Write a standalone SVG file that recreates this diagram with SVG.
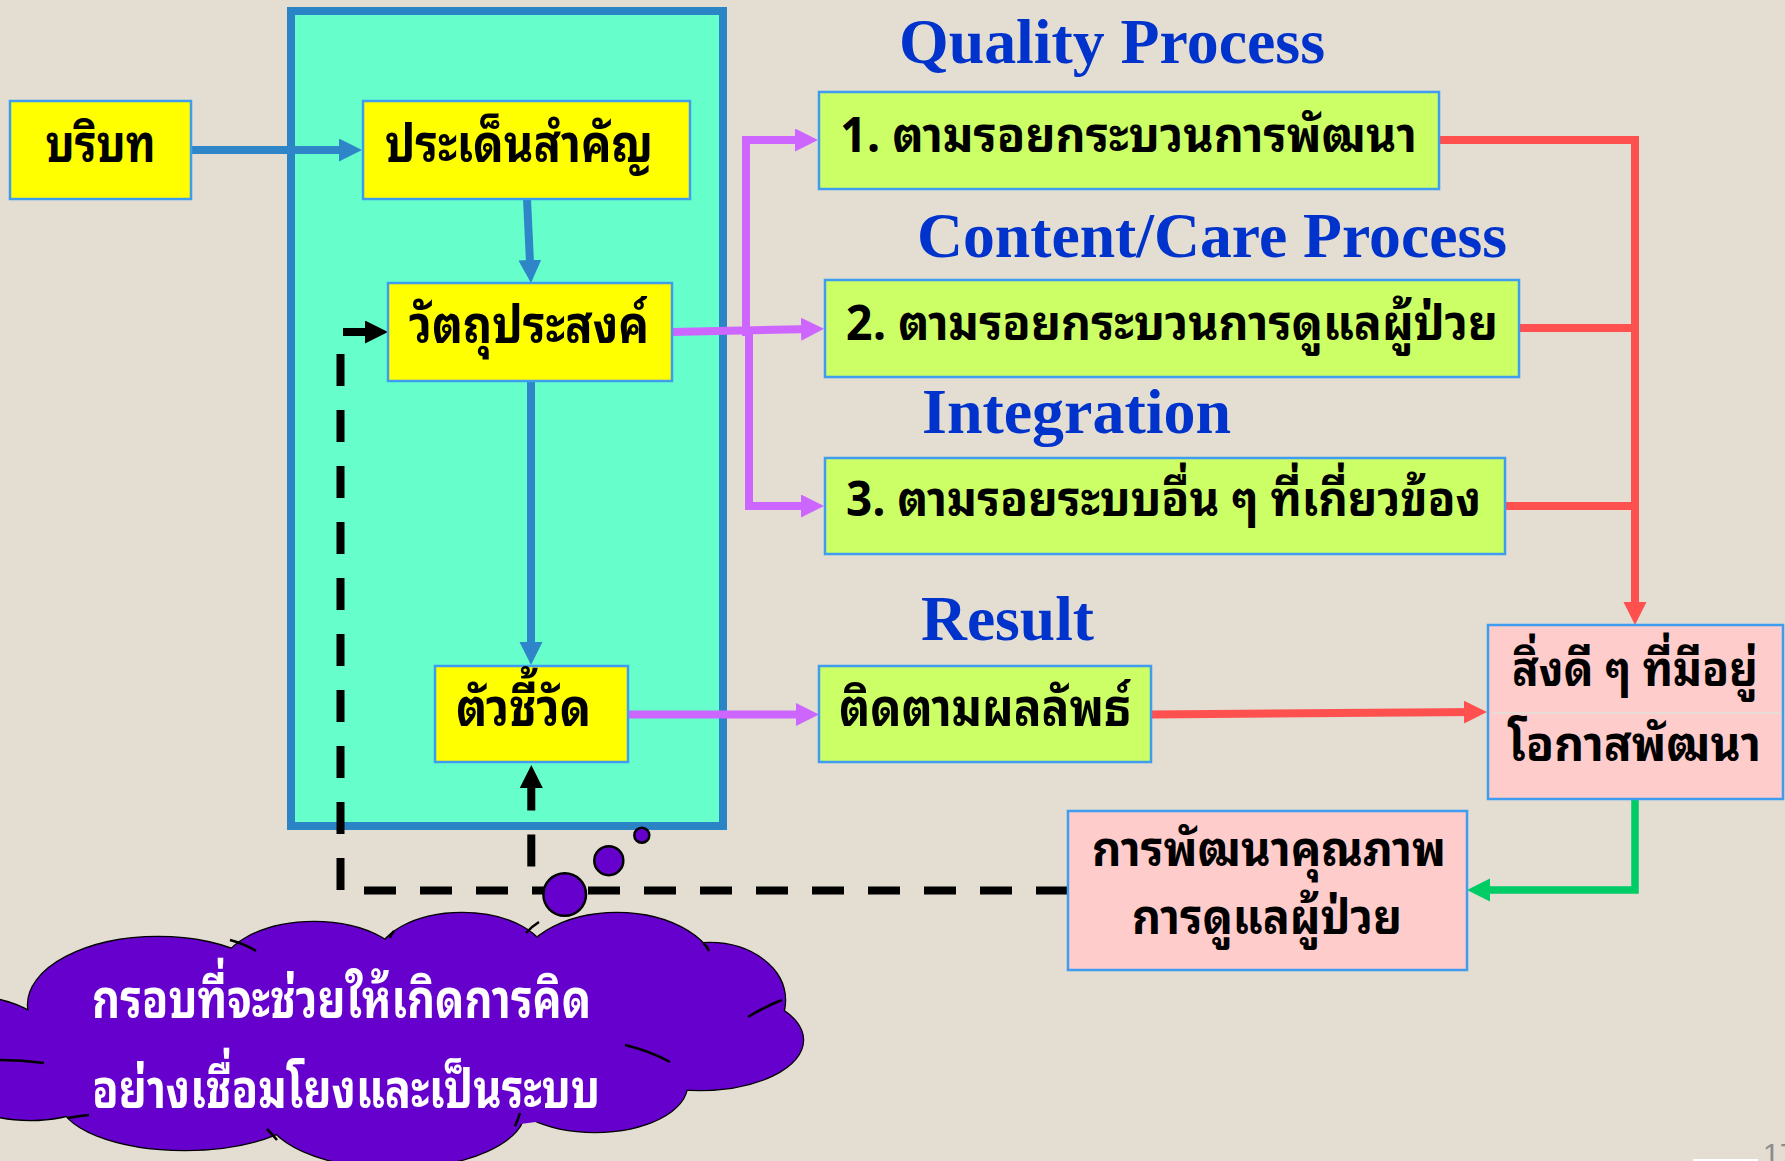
<svg xmlns="http://www.w3.org/2000/svg" width="1785" height="1161" viewBox="0 0 1785 1161">
<style>
.bg{fill:#E3DDD2}
.node{stroke:#3F9CEE;stroke-width:2.5}
.yel{fill:#FFFF00}
.grn{fill:#CCFF66}
.pnk{fill:#FFCCCC}
.th{font-family:'Noto Sans Thai Looped','Noto Serif Thai','Garuda','Loma','Norasi','Noto Sans Thai','Noto Sans','DejaVu Sans',sans-serif;font-weight:bold;font-size:52px;fill:#000}
.sm{font-size:48px}
.thw{fill:#FFFFFF;font-size:54px}
.title{font-family:'Liberation Serif','Times New Roman',serif;font-weight:bold;font-size:64px;fill:#0033CC}
.c{fill:none;stroke-width:8;stroke-linejoin:miter}
.blue{stroke:#2E86C8}
.purp{stroke:#CC66FF}
.red{stroke:#FF5050}
.green{stroke:#00CC66;stroke-width:7.5}
.blk{stroke:#000}
.dash{stroke-dasharray:32 24}
.cloud{fill:#6600CC;stroke:#000;stroke-width:2.5}
.cloudf{fill:#6600CC}
.tail{fill:none;stroke:#000;stroke-width:2.5}
</style>
<defs>
<marker id="mBlue" markerUnits="userSpaceOnUse" markerWidth="24" markerHeight="24" refX="11" refY="11.5" orient="auto"><path d="M0,0 L23,11.5 L0,23 Z" fill="#2E86C8"/></marker>
<marker id="mPurp" markerUnits="userSpaceOnUse" markerWidth="24" markerHeight="24" refX="11" refY="11.5" orient="auto"><path d="M0,0 L23,11.5 L0,23 Z" fill="#CC66FF"/></marker>
<marker id="mRed" markerUnits="userSpaceOnUse" markerWidth="24" markerHeight="24" refX="11" refY="11.5" orient="auto"><path d="M0,0 L23,11.5 L0,23 Z" fill="#FF5050"/></marker>
<marker id="mGreen" markerUnits="userSpaceOnUse" markerWidth="24" markerHeight="24" refX="11" refY="11.5" orient="auto"><path d="M0,0 L23,11.5 L0,23 Z" fill="#00CC66"/></marker>
<marker id="mBlk" markerUnits="userSpaceOnUse" markerWidth="24" markerHeight="24" refX="11" refY="11.5" orient="auto"><path d="M0,0 L23,11.5 L0,23 Z" fill="#000"/></marker>
</defs>
<rect class="bg" x="0" y="0" width="1785" height="1161"/>

<g id="frame">
<rect x="291" y="11" width="432" height="815" fill="#66FFCC" stroke="#2A84C6" stroke-width="8"/>
</g>

<g id="titles">
<text class="title" x="899" y="63" textLength="426" lengthAdjust="spacingAndGlyphs">Quality Process</text>
<text class="title" x="917" y="257" textLength="590" lengthAdjust="spacingAndGlyphs">Content/Care Process</text>
<text class="title" x="922" y="433" textLength="309" lengthAdjust="spacingAndGlyphs">Integration</text>
<text class="title" x="921" y="640" textLength="173" lengthAdjust="spacingAndGlyphs">Result</text>
</g>

<g id="connectors">
<path class="c blue" d="M191,150 H350" marker-end="url(#mBlue)"/>
<path class="c blue" d="M527,199 L530.4,271" marker-end="url(#mBlue)"/>
<path class="c blue" d="M531,382 V653" marker-end="url(#mBlue)"/>
<path class="c purp" d="M672,332 L812,329" marker-end="url(#mPurp)"/>
<path class="c purp" d="M746,336 V140 H806" marker-end="url(#mPurp)"/>
<path class="c purp" d="M749,328 V506 H812" marker-end="url(#mPurp)"/>
<path class="c purp" d="M627,714.6 H807" marker-end="url(#mPurp)"/>
<path class="c red" d="M1439,140 H1635 V613" marker-end="url(#mRed)"/>
<path class="c red" d="M1519,328 H1635"/>
<path class="c red" d="M1505,506 H1635"/>
<path class="c red" d="M1151,714.5 L1475,712" marker-end="url(#mRed)"/>
<path class="c green" d="M1635,799 V890 H1479" marker-end="url(#mGreen)"/>
<path class="c blk dash" d="M1068,890.5 H340.5 V330"/>
<path class="c blk" d="M343,332 H376" marker-end="url(#mBlk)"/>
<path class="c blk" d="M531.3,890.5 V777" stroke-dasharray="0 24 32 24 100" marker-end="url(#mBlk)"/>
</g>

<g id="n-context">
<rect class="node yel" x="10" y="101" width="181" height="98"/>
<text class="th" x="100.5" y="162" text-anchor="middle" textLength="110" lengthAdjust="spacingAndGlyphs">บริบท</text>
</g>
<g id="n-issue">
<rect class="node yel" x="363" y="101" width="327" height="98"/>
<text class="th" x="519" y="162" text-anchor="middle" textLength="268" lengthAdjust="spacingAndGlyphs">ประเด็นสำคัญ</text>
</g>
<g id="n-objective">
<rect class="node yel" x="388" y="283" width="284" height="98"/>
<text class="th" x="529" y="343" text-anchor="middle" textLength="240" lengthAdjust="spacingAndGlyphs">วัตถุประสงค์</text>
</g>
<g id="n-indicator">
<rect class="node yel" x="435" y="666" width="193" height="96"/>
<text class="th" x="523.5" y="726" text-anchor="middle" textLength="135" lengthAdjust="spacingAndGlyphs">ตัวชี้วัด</text>
</g>
<g id="n-trace1">
<rect class="node grn" x="819" y="92" width="620" height="97"/>
<text class="th sm" x="840" y="152" textLength="577" lengthAdjust="spacingAndGlyphs">1. ตามรอยกระบวนการพัฒนา</text>
</g>
<g id="n-trace2">
<rect class="node grn" x="825" y="280" width="694" height="97"/>
<text class="th sm" x="846" y="340" textLength="652" lengthAdjust="spacingAndGlyphs">2. ตามรอยกระบวนการดูแลผู้ป่วย</text>
</g>
<g id="n-trace3">
<rect class="node grn" x="825" y="458" width="680" height="96"/>
<text class="th sm" x="846" y="516" textLength="635" lengthAdjust="spacingAndGlyphs">3. ตามรอยระบบอื่น ๆ ที่เกี่ยวข้อง</text>
</g>
<g id="n-result">
<rect class="node grn" x="819" y="666" width="332" height="96"/>
<text class="th" x="839" y="726" textLength="292" lengthAdjust="spacingAndGlyphs">ติดตามผลลัพธ์</text>
</g>
<g id="n-good">
<rect class="node pnk" x="1488" y="625" width="295" height="174"/>
<line x1="1493" y1="713" x2="1781" y2="713" stroke="#E8DCD6" stroke-width="2"/>
<text class="th sm" x="1512" y="686" textLength="246" lengthAdjust="spacingAndGlyphs">สิ่งดี ๆ ที่มีอยู่</text>
<text class="th sm" x="1508" y="761" textLength="253" lengthAdjust="spacingAndGlyphs">โอกาสพัฒนา</text>
</g>
<g id="n-improve">
<rect class="node pnk" x="1068" y="811" width="399" height="159"/>
<text class="th sm" x="1092" y="866" textLength="354" lengthAdjust="spacingAndGlyphs">การพัฒนาคุณภาพ</text>
<text class="th sm" x="1132" y="934" textLength="270" lengthAdjust="spacingAndGlyphs">การดูแลผู้ป่วย</text>
</g>

<g id="n-cloud">
<g class="cloud">
<ellipse cx="158" cy="1005" rx="130" ry="68"/>
<ellipse cx="314" cy="975" rx="95" ry="53"/>
<ellipse cx="462" cy="960" rx="85" ry="47"/>
<ellipse cx="617" cy="975" rx="100" ry="62"/>
<ellipse cx="710" cy="1000" rx="75" ry="57"/>
<ellipse cx="700" cy="1040" rx="103" ry="50"/>
<ellipse cx="595" cy="1085" rx="92" ry="47"/>
<ellipse cx="395" cy="1110" rx="130" ry="58"/>
<ellipse cx="185" cy="1100" rx="125" ry="50"/>
<ellipse cx="30" cy="1080" rx="80" ry="40"/>
<ellipse cx="-30" cy="1055" rx="90" ry="58"/>
</g>
<g class="cloudf">
<ellipse cx="158" cy="1005" rx="130" ry="68"/>
<ellipse cx="314" cy="975" rx="95" ry="53"/>
<ellipse cx="462" cy="960" rx="85" ry="47"/>
<ellipse cx="617" cy="975" rx="100" ry="62"/>
<ellipse cx="710" cy="1000" rx="75" ry="57"/>
<ellipse cx="700" cy="1040" rx="103" ry="50"/>
<ellipse cx="595" cy="1085" rx="92" ry="47"/>
<ellipse cx="395" cy="1110" rx="130" ry="58"/>
<ellipse cx="185" cy="1100" rx="125" ry="50"/>
<ellipse cx="30" cy="1080" rx="80" ry="40"/>
<ellipse cx="-30" cy="1055" rx="90" ry="58"/>
<ellipse cx="400" cy="1040" rx="330" ry="90"/>
</g>
<g class="tail">
<path d="M230,940 Q245,944 256,951"/>
<path d="M390,938 Q391,934 394,931"/>
<path d="M526,933 Q531,927 539,922"/>
<path d="M703,943 Q707,946 709,951"/>
<path d="M748,1017 Q766,1006 782,1000"/>
<path d="M625,1045 Q650,1051 670,1062"/>
<path d="M520,1113 Q518,1120 515,1126"/>
<path d="M267,1129 Q272,1134 277,1140"/>
<path d="M68,1118 Q78,1116 89,1115"/>
<path d="M0,1060 Q22,1060 44,1063"/>
</g>
<text class="th thw" x="92" y="1018" textLength="499" lengthAdjust="spacingAndGlyphs">กรอบที่จะช่วยให้เกิดการคิด</text>
<text class="th thw" x="92" y="1108" textLength="508" lengthAdjust="spacingAndGlyphs">อย่างเชื่อมโยงและเป็นระบบ</text>
</g>

<g id="bubbles" class="cloud">
<circle cx="564.7" cy="894.5" r="21.3"/>
<circle cx="608.8" cy="860.7" r="14.5"/>
<circle cx="641.8" cy="835.2" r="7.5"/>
</g>

<g id="pagenum">
<rect x="1693" y="1159" width="65" height="2" fill="#FFFFFF"/>
<text x="1763" y="1164" font-family="'Liberation Sans',Arial,sans-serif" font-size="30" fill="#8C8C8C">17</text>
</g>
</svg>
